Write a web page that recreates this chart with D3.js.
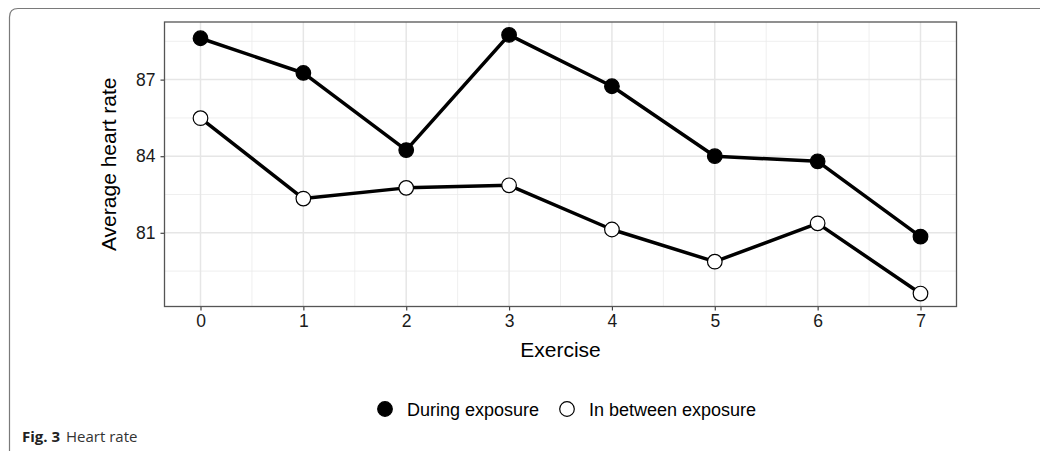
<!DOCTYPE html>
<html>
<head>
<meta charset="utf-8">
<script src="https://cdn.jsdelivr.net/npm/d3@7"></script>
<style>
  body { margin: 0; background: #fff; }
  svg { display: block; }
</style>
</head>
<body>
<svg id="chart" width="1040" height="451"></svg>
<script>
// data
const exercises = [0, 1, 2, 3, 4, 5, 6, 7];
const during = [88.62, 87.26, 84.24, 88.75, 86.74, 84.0, 83.8, 80.85];
const between = [85.49, 82.34, 82.76, 82.86, 81.13, 79.87, 81.37, 78.62];
const yTicks = [81, 84, 87];
const seriesNames = ["During exposure", "In between exposure"];

const svg = d3.select("#chart");
const font = "'Liberation Sans', Arial, sans-serif";

// outer figure frame (rounded top-left corner)
svg.append("path")
  .attr("d", "M9.5,451 L9.5,17 Q9.5,8.5 18,8.5 L1040,8.5")
  .attr("fill", "none")
  .attr("stroke", "#7a7a7a")
  .attr("stroke-width", 1.2);

const panel = { left: 164.5, top: 22, right: 956.5, bottom: 306.5 };

// ggplot style 5% expansion
const xMin = d3.min(exercises), xMax = d3.max(exercises);
const xPad = (xMax - xMin) * 0.05;
const x = d3.scaleLinear()
  .domain([xMin - xPad, xMax + xPad])
  .range([panel.left, panel.right]);

const allVals = during.concat(between);
const yLo = d3.min(allVals), yHi = d3.max(allVals);
const yPad = (yHi - yLo) * 0.05;
const y = d3.scaleLinear()
  .domain([yLo - yPad, yHi + yPad])
  .range([panel.bottom, panel.top]);

const grid = svg.append("g");

// minor gridlines
const xMinor = d3.range(xMin - 0.5, xMax + 1, 1).filter(v => x(v) > panel.left && x(v) < panel.right);
const yMinor = d3.range(yTicks[0] - 1.5, yTicks[yTicks.length - 1] + 3, 3).filter(v => y(v) > panel.top && y(v) < panel.bottom);

grid.selectAll(".vminor").data(xMinor).enter().append("line")
  .attr("x1", d => x(d)).attr("x2", d => x(d))
  .attr("y1", panel.top).attr("y2", panel.bottom)
  .attr("stroke", "#ebebeb").attr("stroke-width", 0.8);

grid.selectAll(".hminor").data(yMinor).enter().append("line")
  .attr("x1", panel.left).attr("x2", panel.right)
  .attr("y1", d => y(d)).attr("y2", d => y(d))
  .attr("stroke", "#ebebeb").attr("stroke-width", 0.8);

// major gridlines
grid.selectAll(".vmajor").data(exercises).enter().append("line")
  .attr("x1", d => x(d)).attr("x2", d => x(d))
  .attr("y1", panel.top).attr("y2", panel.bottom)
  .attr("stroke", "#e6e6e6").attr("stroke-width", 1.5);

grid.selectAll(".hmajor").data(yTicks).enter().append("line")
  .attr("x1", panel.left).attr("x2", panel.right)
  .attr("y1", d => y(d)).attr("y2", d => y(d))
  .attr("stroke", "#e6e6e6").attr("stroke-width", 1.5);

// axes
const xAxis = svg.append("g")
  .attr("transform", `translate(0,${panel.bottom})`)
  .call(d3.axisBottom(x).tickValues(exercises).tickSize(4).tickPadding(4).tickFormat(d3.format("d")));

const yAxis = svg.append("g")
  .attr("transform", `translate(${panel.left},0)`)
  .call(d3.axisLeft(y).tickValues(yTicks).tickSize(4).tickPadding(5).tickFormat(d3.format("d")));

[xAxis, yAxis].forEach(a => {
  a.select(".domain").remove();
  a.selectAll(".tick line").attr("stroke", "#444").attr("stroke-width", 1.2);
  a.selectAll(".tick text")
    .attr("fill", "#1a1a1a")
    .style("font-family", font)
    .style("font-size", "17.5px");
});

// panel border
svg.append("rect")
  .attr("x", panel.left).attr("y", panel.top)
  .attr("width", panel.right - panel.left)
  .attr("height", panel.bottom - panel.top)
  .attr("fill", "none")
  .attr("stroke", "#555")
  .attr("stroke-width", 1.3);

// axis titles
svg.append("text")
  .attr("x", (panel.left + panel.right) / 2)
  .attr("y", 357)
  .attr("text-anchor", "middle")
  .style("font-family", font)
  .style("font-size", "21px")
  .attr("fill", "#000")
  .text("Exercise");

svg.append("text")
  .attr("transform", `translate(116,${(panel.top + panel.bottom) / 2}) rotate(-90)`)
  .attr("text-anchor", "middle")
  .style("font-family", font)
  .style("font-size", "21px")
  .attr("fill", "#000")
  .text("Average heart rate");

// lines and points
const line = d3.line()
  .x((d, i) => x(exercises[i]))
  .y(d => y(d));

const series = [
  { name: seriesNames[0], values: during, fill: "#000" },
  { name: seriesNames[1], values: between, fill: "#fff" }
];

series.forEach(s => {
  svg.append("path")
    .datum(s.values)
    .attr("d", line)
    .attr("fill", "none")
    .attr("stroke", "#000")
    .attr("stroke-width", 3.5)
    .attr("stroke-linejoin", "round");
});

series.forEach(s => {
  svg.append("g").selectAll("circle")
    .data(s.values)
    .enter()
    .append("circle")
    .attr("cx", (d, i) => x(exercises[i]))
    .attr("cy", d => y(d))
    .attr("r", 7.3)
    .attr("fill", s.fill)
    .attr("stroke", "#000")
    .attr("stroke-width", 1.2);
});

// legend
const legend = svg.append("g").attr("transform", "translate(0,409)");
const legendX = [385, 567];
series.forEach((s, i) => {
  legend.append("circle")
    .attr("cx", legendX[i]).attr("cy", 0)
    .attr("r", 7.3)
    .attr("fill", s.fill)
    .attr("stroke", "#000")
    .attr("stroke-width", 1.2);
  legend.append("text")
    .attr("x", legendX[i] + 22).attr("y", 6.5)
    .style("font-family", font)
    .style("font-size", "18px")
    .attr("fill", "#000")
    .text(s.name);
});

// caption
const cap = svg.append("text")
  .attr("x", 22).attr("y", 442)
  .style("font-family", "'Open Sans', 'Noto Sans', sans-serif")
  .style("font-size", "15px")
  .attr("fill", "#222");
cap.append("tspan").style("font-weight", "bold").text("Fig. 3");
cap.append("tspan").attr("dx", 6).attr("fill", "#333").text("Heart rate");
</script>
</body>
</html>
